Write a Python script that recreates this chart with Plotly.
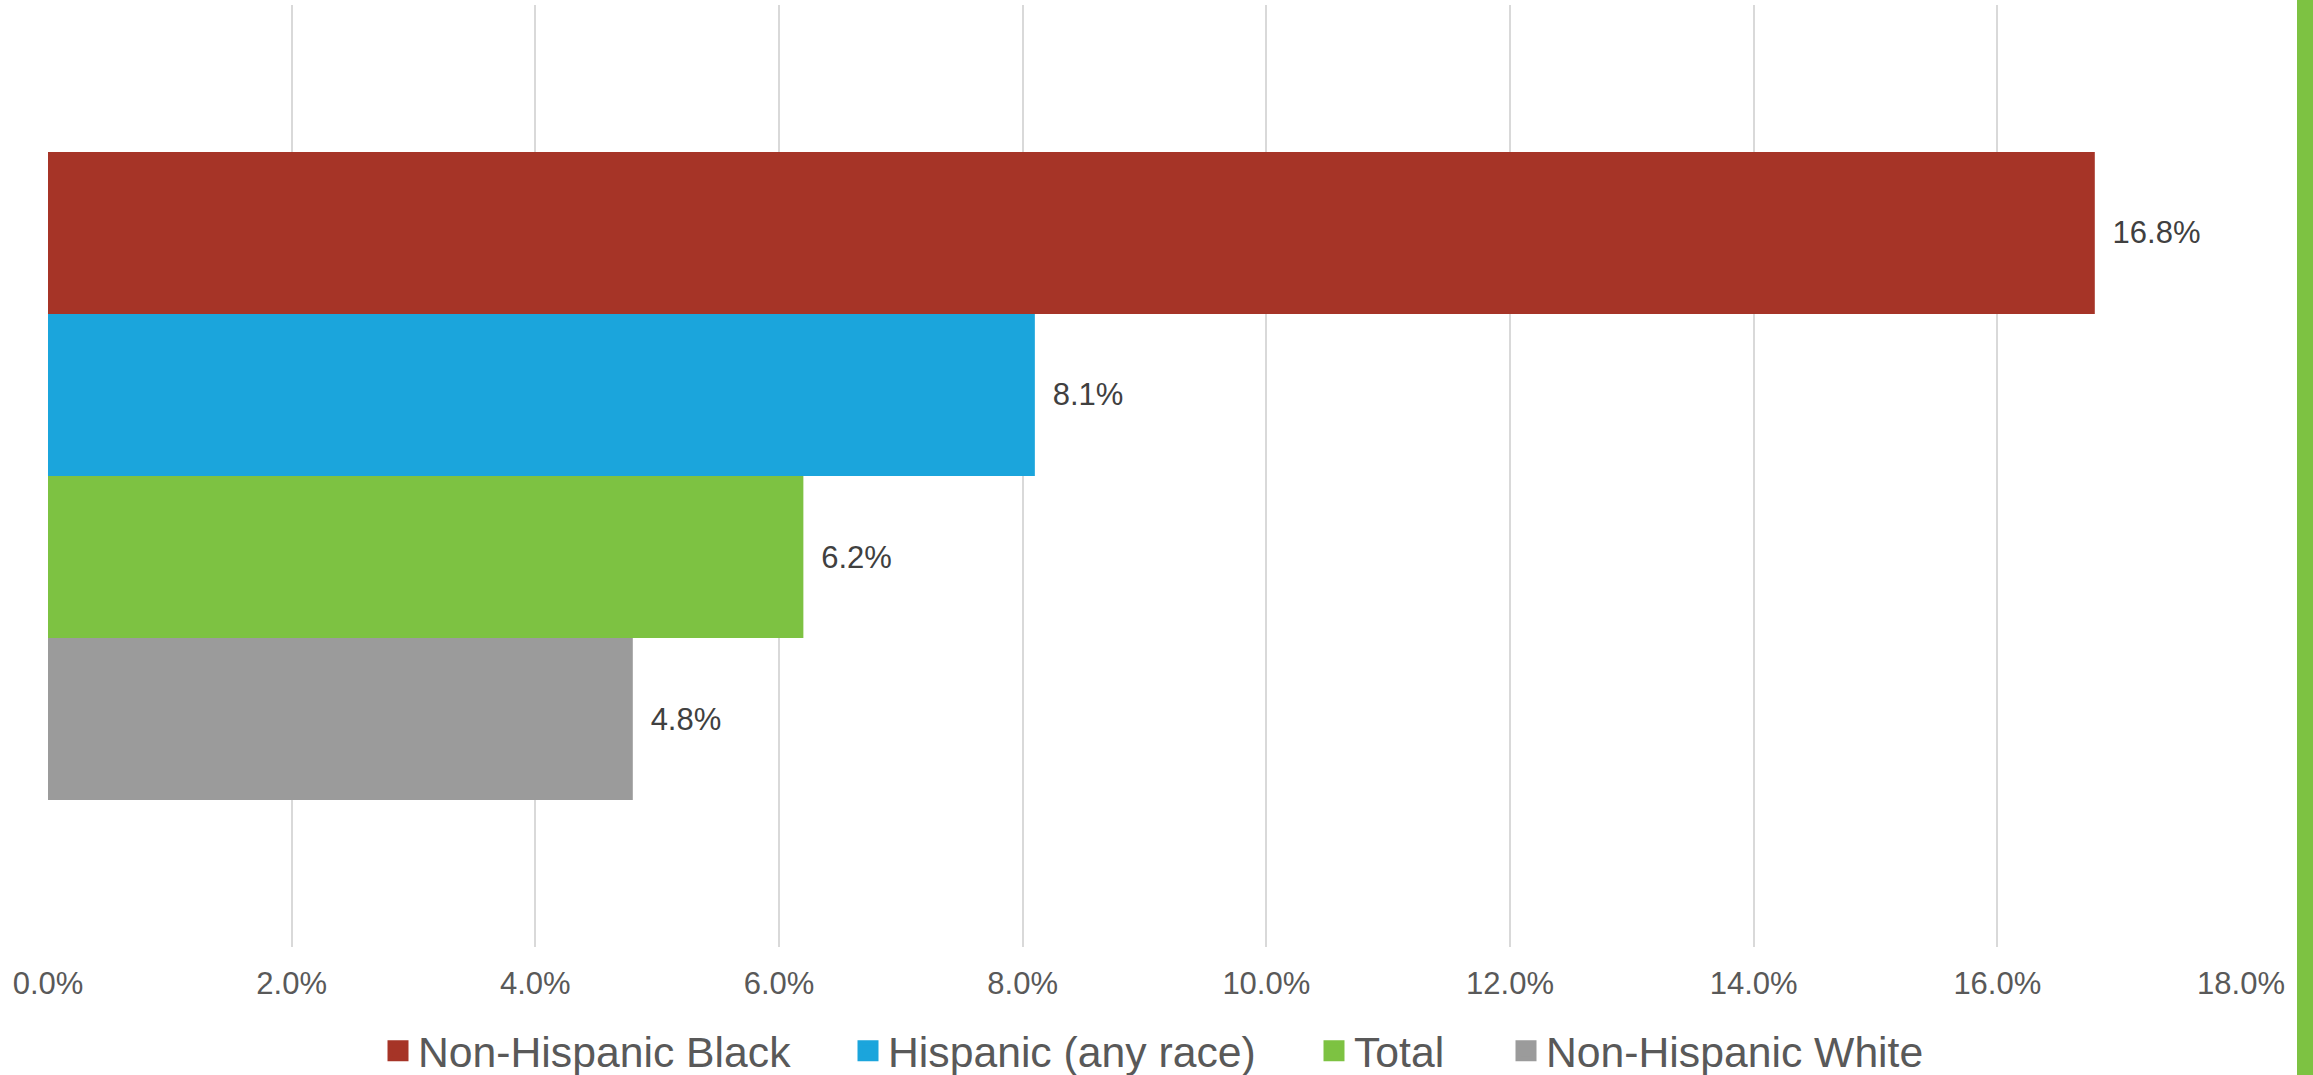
import plotly.graph_objects as go

# Rates by group, in percent
groups = ["Non-Hispanic Black", "Hispanic (any race)", "Total", "Non-Hispanic White"]
rates = [16.8, 8.1, 6.2, 4.8]
colors = ["#A63427", "#1BA5DC", "#7DC242", "#9B9B9B"]
category = [" "]
tick_values = [0, 2, 4, 6, 8, 10, 12, 14, 16, 18]
tick_labels = ["0.0%", "2.0%", "4.0%", "6.0%", "8.0%", "10.0%", "12.0%", "14.0%", "16.0%", "18.0%"]

FONT = "Liberation Sans, Arial, sans-serif"
W, H = 2313, 1075

fig = go.Figure()

for name, rate, color in zip(groups, rates, colors):
    fig.add_trace(go.Bar(
        x=[rate], y=category, orientation="h", name=name,
        marker=dict(color=color, line=dict(width=0)),
        texttemplate="\u00a0\u2009%{x:.1f}%", textposition="outside",
        textfont=dict(family=FONT, size=31, color="#404040"),
        cliponaxis=False, showlegend=False, hoverinfo="skip",
    ))

# one legend box per entry so the spacing between entries can be set freely
legend_ids = ["legend", "legend2", "legend3", "legend4"]
swatch_centers = [398, 868, 1334, 1526]  # px from the left edge of the page

for name, color, lid in zip(groups, colors, legend_ids):
    fig.add_trace(go.Scatter(
        x=[None], y=[None], mode="markers", name=name, legend=lid,
        marker=dict(symbol="square", size=16, color=color,
                    line=dict(color=color, width=6)),
        showlegend=True, hoverinfo="skip",
    ))

legend_style = dict(
    orientation="h", xref="container", yref="container",
    xanchor="left", y=1 - 1051 / H, yanchor="middle",
    font=dict(family=FONT, size=42.7, color="#595959"),
    itemsizing="trace", bgcolor="rgba(0,0,0,0)",
)
legends = {lid: dict(legend_style, x=(cx - 20) / W)
           for lid, cx in zip(legend_ids, swatch_centers)}

fig.update_layout(
    width=W, height=H,
    margin=dict(l=48, r=72, t=5, b=128),
    paper_bgcolor="white", plot_bgcolor="white",
    barmode="group", bargap=0.312, bargroupgap=0,
    font=dict(family=FONT, color="#595959"),
    xaxis=dict(
        range=[0, 18], tickmode="array", tickvals=tick_values, ticktext=tick_labels,
        showgrid=True, gridcolor="#D9D9D9", gridwidth=2,
        zeroline=False, showline=False,
        ticks="outside", ticklen=9, tickcolor="rgba(0,0,0,0)",
        tickfont=dict(family=FONT, size=31, color="#595959"),
    ),
    yaxis=dict(
        type="category", autorange="reversed",
        showticklabels=False, showgrid=False, zeroline=False, showline=False,
    ),
    shapes=[dict(
        type="rect", xref="paper", yref="paper",
        x0=(2297 - 48) / 2193, x1=(2320 - 48) / 2193, y0=-0.2, y1=1.1,
        fillcolor="#7DC242", line=dict(width=0), layer="above",
    )],
    **legends,
)

fig.write_html("out.html")
